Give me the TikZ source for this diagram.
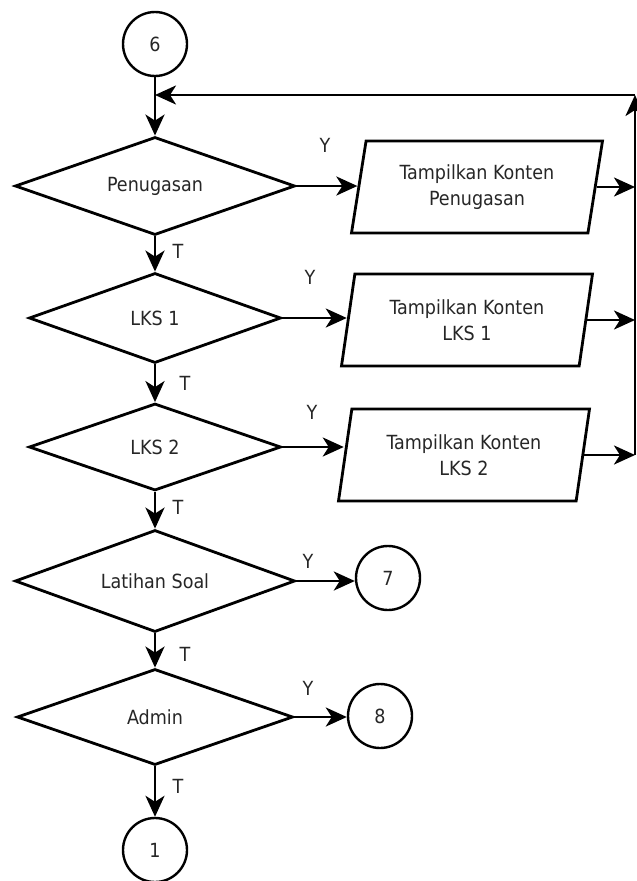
\documentclass[tikz,border=0pt]{standalone}
\usepackage{fontspec}
\setmainfont{DejaVu Sans Condensed}
\usetikzlibrary{shapes.geometric,arrows.meta}
\begin{document}
\begin{tikzpicture}[x=1pt,y=-1pt,
  every node/.style={font=\fontsize{19.5}{26}\selectfont, text=black!85},
  arr/.style={draw=black, line width=2.8pt, -{Stealth[length=21pt,width=19pt,inset=6pt]}},
  dec/.style={diamond, shape aspect=2.8, draw, line width=2.8pt, inner sep=0pt, minimum width=#1},
  conn/.style={circle, draw, line width=2.4pt, minimum size=64pt, inner sep=0pt},
  io/.style={trapezium, trapezium left angle=72, trapezium right angle=108, trapezium stretches body, draw, line width=2.8pt, inner sep=0pt, minimum width=251pt, minimum height=92pt, align=center},
  lab/.style={font=\fontsize{19.5}{22}\selectfont}
]
\useasboundingbox (0,0) rectangle (637,881);
% connectors
\node[conn] (c6) at (155,44) {6};
\node[conn] (c7) at (388,578) {7};
\node[conn] (c8) at (380,716) {8};
\node[conn] (c1) at (155,850) {1};
% decisions
\node[dec=280pt, minimum height=98pt] (d1) at (155,186) {Penugasan};
\node[dec=252pt, minimum height=90pt] (d2) at (155,318) {LKS 1};
\node[dec=252pt, minimum height=87pt] (d3) at (155,447) {LKS 2};
\node[dec=280pt, minimum height=102pt] (d4) at (155,581) {Latihan Soal};
\node[dec=276pt, minimum height=96pt] (d5) at (155,717) {Admin};
% outputs
\node[io] (p1) at (477,187) {Tampilkan Konten\\Penugasan};
\node[io] (p2) at (467,320) {Tampilkan Konten\\LKS 1};
\node[io] (p3) at (464,455) {Tampilkan Konten\\LKS 2};
% loop coordinates
\coordinate (top) at (635,95);
\coordinate (r1) at (p1.east -| top);
\coordinate (r2) at (p2.east -| top);
\coordinate (r3) at (p3.east -| top);
\coordinate (j6) at (top -| c6);
% main flow
\draw[arr] (c6) -- (d1);
\draw[arr] (d1) -- (d2);
\draw[arr] (d2) -- (d3);
\draw[arr] (d3) -- (d4);
\draw[arr] (d4) -- (d5);
\draw[arr] (d5) -- (c1);
% yes branches
\draw[arr] (d1.east) -- (d1.east -| p1.west);
\draw[arr] (d2.east) -- (d2.east -| p2.west);
\draw[arr] (d3.east) -- (d3.east -| p3.west);
\draw[arr] (d4.east) -- (d4.east -| c7.west);
\draw[arr] (d5.east) -- (d5.east -| c8.west);
% outputs back
\draw[arr] (p1.east) -- (r1);
\draw[arr] (p2.east) -- (r2);
\draw[arr] (p3.east) -- (r3);
\draw[arr] (r3) -- (top);
\draw[arr] (top) -- (j6);
% labels
\node[lab] (y1) at (325,145) {Y};
\node[lab] (y2) at (310,277) {Y};
\node[lab] (y3) at (312,412) {Y};
\node[lab] (y4) at (308,561) {Y};
\node[lab] (y5) at (308,688) {Y};
\node[lab] (t1) at (178,251) {T};
\node[lab] (t2) at (185,383) {T};
\node[lab] (t3) at (178,507) {T};
\node[lab] (t4) at (185,654) {T};
\node[lab] (t5) at (178,786) {T};
\end{tikzpicture}
\end{document}
